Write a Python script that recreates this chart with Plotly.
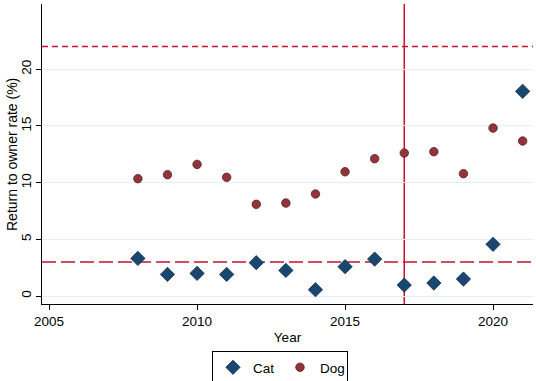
import plotly.graph_objects as go

years = [2008, 2009, 2010, 2011, 2012, 2013, 2014, 2015, 2016, 2017, 2018, 2019, 2020, 2021]
cat = [3.32, 1.91, 2.0, 1.91, 2.94, 2.26, 0.56, 2.59, 3.26, 0.97, 1.15, 1.5, 4.56, 18.05]
dog = [10.35, 10.7, 11.61, 10.47, 8.09, 8.2, 9.0, 10.96, 12.11, 12.61, 12.73, 10.79, 14.81, 13.67]
hlines = [22, 3]
vline_year = 2017
x_ticks = [2005, 2010, 2015, 2020]
y_ticks = [0, 5, 10, 15, 20]
y_title = "Return to owner rate (%)"

RED = "#c8102e"
FONT = "Liberation Sans, Arial, sans-serif"

fig = go.Figure()
fig.add_trace(go.Scatter(
    x=years, y=cat, mode="markers", name="Cat", cliponaxis=False,
    marker=dict(symbol="diamond", size=11, color="#1a476f",
                line=dict(color="#0f2f4d", width=0.8)),
))
fig.add_trace(go.Scatter(
    x=years, y=dog, mode="markers", name="Dog", cliponaxis=False,
    marker=dict(symbol="circle", size=8.5, color="#90353b",
                line=dict(color="#5e1f24", width=0.8)),
))

fig.add_hline(y=hlines[0], line=dict(color=RED, width=1.5, dash="6px,4px"), layer="below")
fig.add_hline(y=hlines[1], line=dict(color=RED, width=1.5, dash="14px,5px"), layer="below")
fig.add_vline(x=vline_year, line=dict(color=RED, width=1.5), layer="below")

fig.add_annotation(
    text=y_title, xref="paper", yref="paper", x=-0.0611, y=0.5,
    xanchor="center", yanchor="middle", textangle=-90, showarrow=False,
    font=dict(size=14),
)

fig.update_layout(
    width=536, height=381, autosize=False,
    margin=dict(l=42, r=3, t=4, b=77, autoexpand=False),
    paper_bgcolor="white", plot_bgcolor="white",
    font=dict(family=FONT, size=13.5, color="black"),
    showlegend=True,
    legend=dict(
        orientation="h",
        x=0.4847, xanchor="center", y=-0.1567, yanchor="top",
        bordercolor="black", borderwidth=1, bgcolor="white",
        font=dict(size=13.5), entrywidth=22, entrywidthmode="pixels",
        tracegroupgap=0,
    ),
    xaxis=dict(
        range=[2004.76, 2021.35], tickvals=x_ticks, ticks="outside", ticklen=5,
        tickcolor="black", showline=True, linecolor="black", linewidth=1,
        showgrid=False, zeroline=False, automargin=False,
        title=dict(text="Year", standoff=4, font=dict(size=13.5)),
        tickfont=dict(size=13.5),
    ),
    yaxis=dict(
        range=[-0.7, 25.75], tickvals=y_ticks, ticks="outside", ticklen=5,
        tickcolor="black", showline=True, linecolor="black", linewidth=1,
        showgrid=True, gridcolor="#e6eff1", gridwidth=1, zeroline=False,
        automargin=False, tickangle=-90,
        tickfont=dict(size=13.5),
    ),
)

fig.write_html(
    "out.html",
    config={"displayModeBar": False},
    post_script="document.body.style.margin='0';document.body.style.overflow='hidden';",
)
